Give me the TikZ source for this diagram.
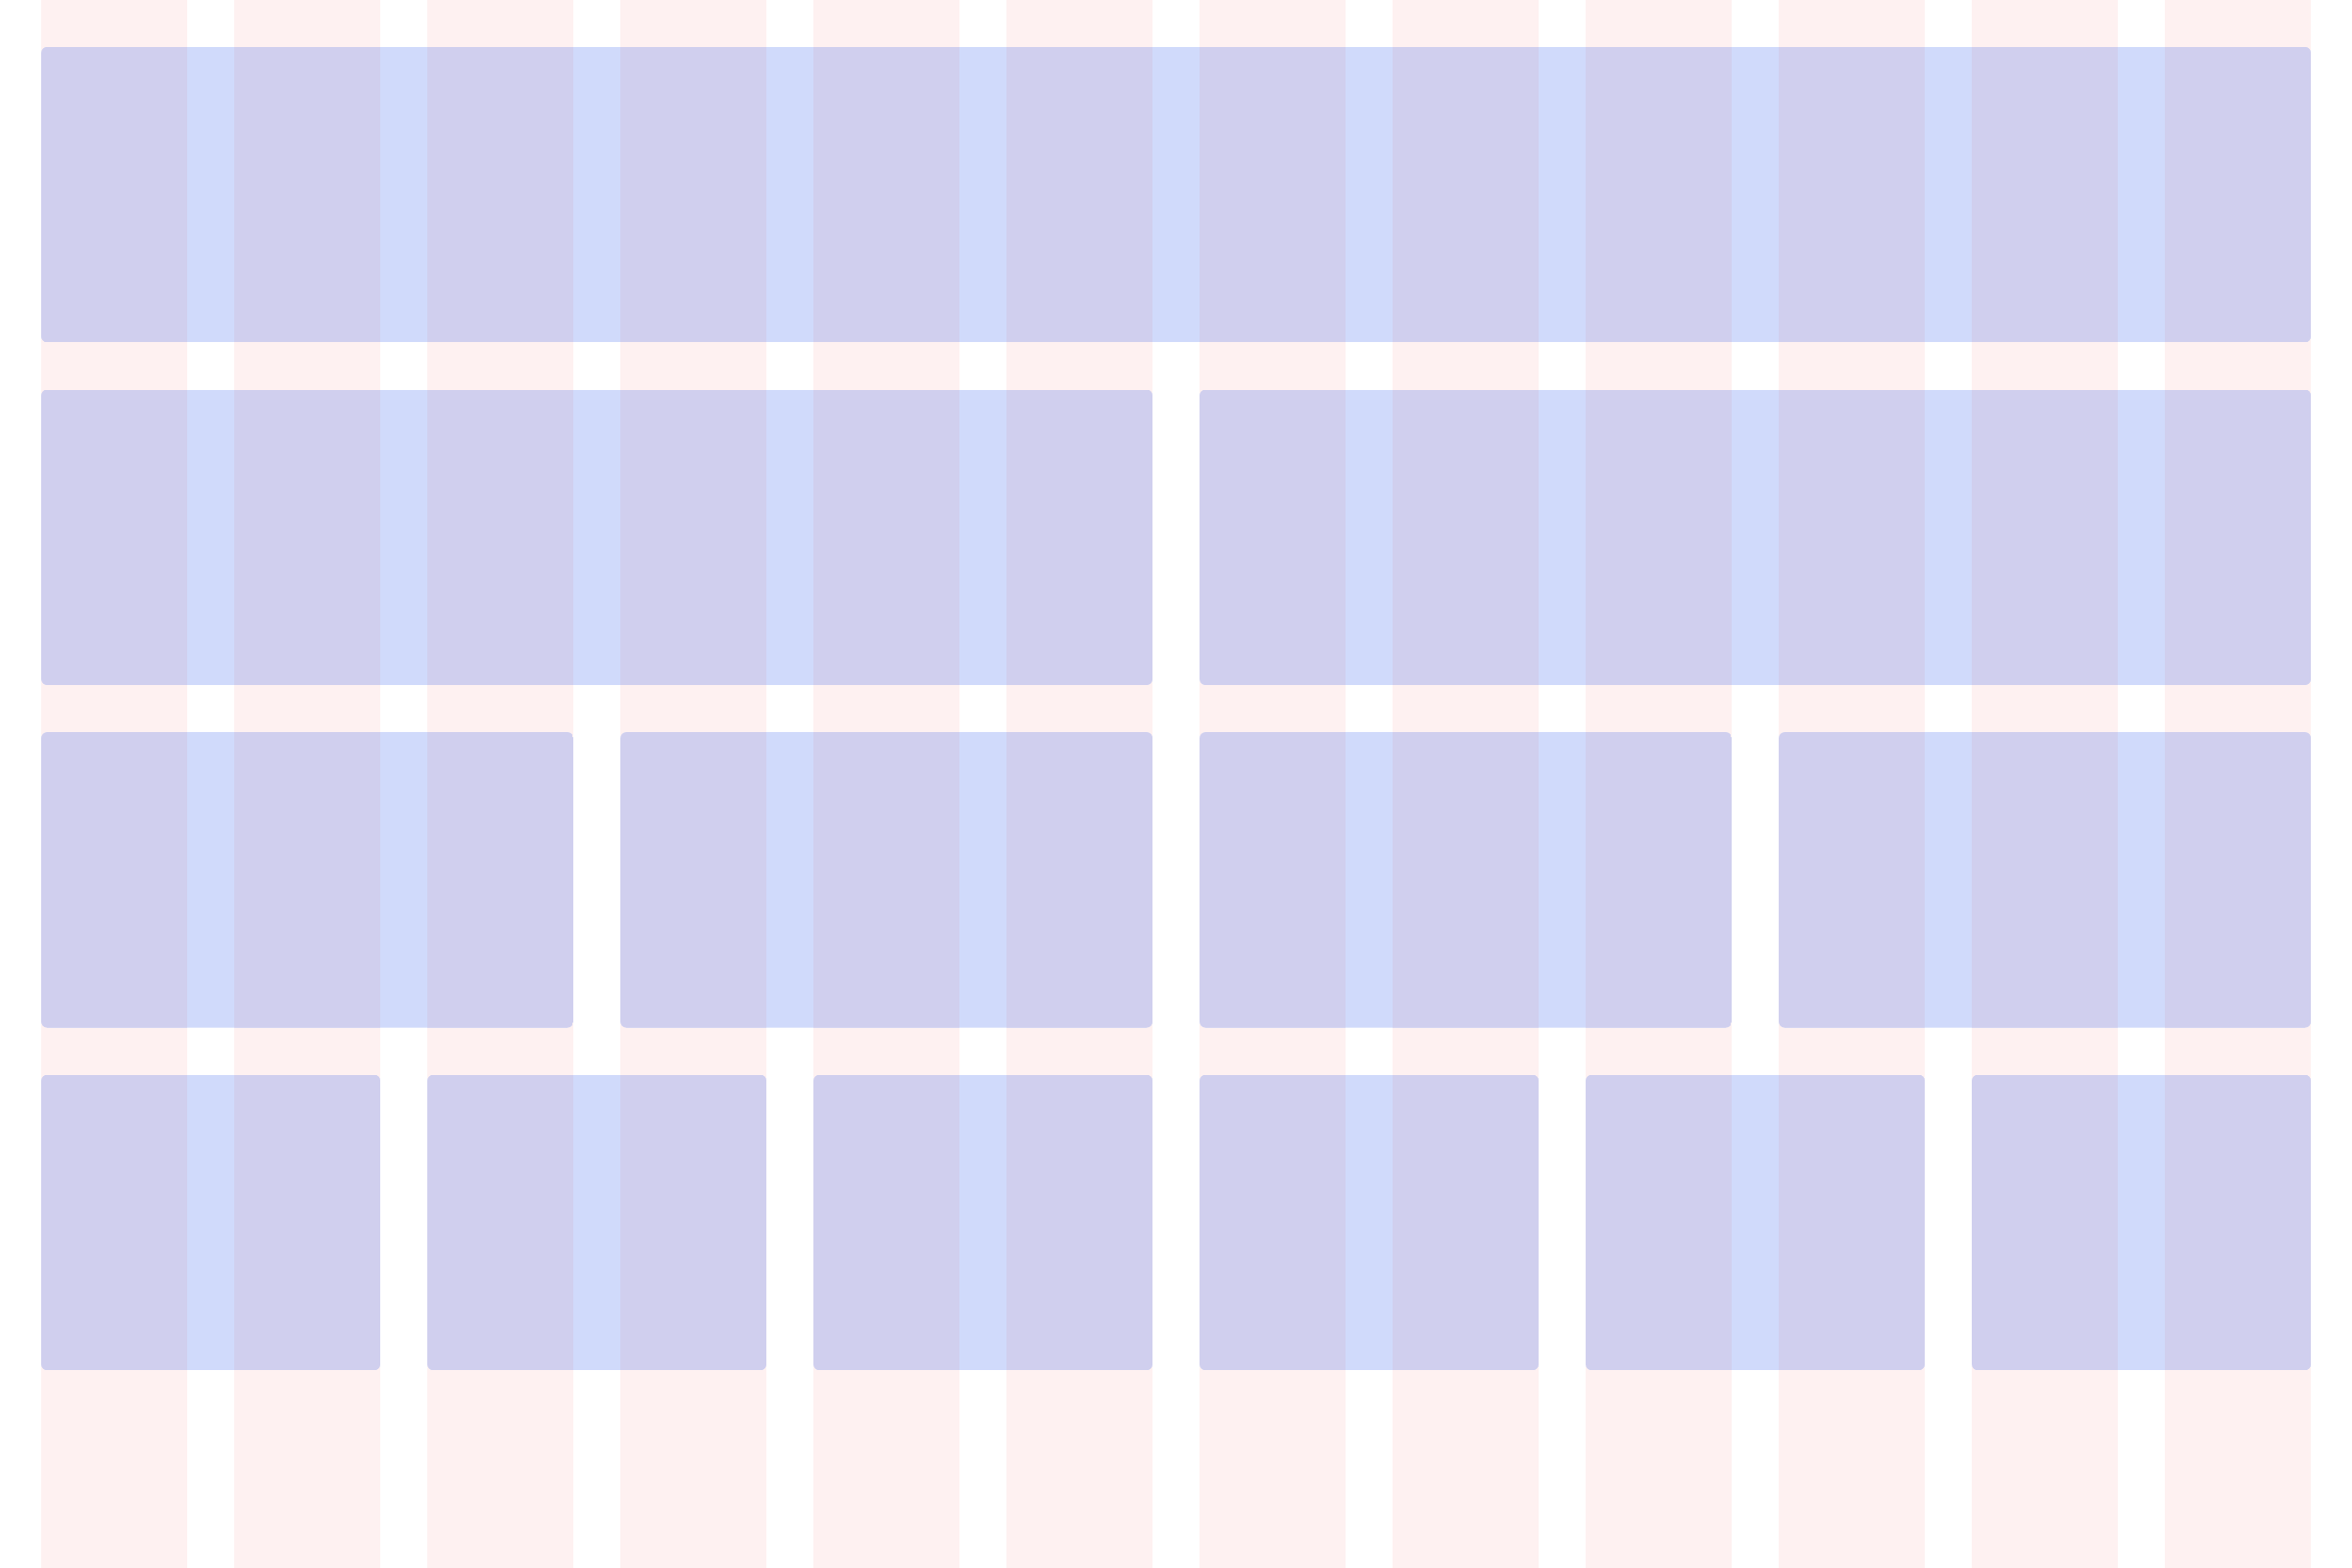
\documentclass[tikz,border=0pt]{standalone}
\definecolor{pinkcol}{RGB}{254,241,241}
\definecolor{boxblue}{RGB}{208,218,251}
\definecolor{boxpurple}{RGB}{208,207,238}
\newcommand\gridbox[3]{%
 \pgfmathsetmacro\xa{42.2+(#2-1)*197}%
 \pgfmathsetmacro\xb{42.2+(#3-1)*197+148.7}%
 \pgfmathsetmacro\ya{48+(#1-1)*349.6}%
 \pgfmathsetmacro\yb{\ya+301.3}%
 \begin{scope}
 \clip[rounded corners=6pt] (\xa,\ya) rectangle (\xb,\yb);
 \fill[boxblue] (\xa,\ya) rectangle (\xb,\yb);
 \foreach \c in {#2,...,#3} {\pgfmathsetmacro\cx{42.2+(\c-1)*197}\fill[boxpurple] (\cx,\ya) rectangle ({\cx+148.7},\yb);}
 \end{scope}}
\begin{document}
\begin{tikzpicture}[x=1pt,y=-1pt]
\fill[white] (0,0) rectangle (2400,1600);
\useasboundingbox (0,0) rectangle (2400,1600);
\foreach \i in {0,...,11} \fill[pinkcol] ({42.2+\i*197},0) rectangle ({42.2+\i*197+148.7},1600);
\gridbox{1}{1}{12}
\gridbox{2}{1}{6}
\gridbox{2}{7}{12}
\gridbox{3}{1}{3}
\gridbox{3}{4}{6}
\gridbox{3}{7}{9}
\gridbox{3}{10}{12}
\gridbox{4}{1}{2}
\gridbox{4}{3}{4}
\gridbox{4}{5}{6}
\gridbox{4}{7}{8}
\gridbox{4}{9}{10}
\gridbox{4}{11}{12}
\end{tikzpicture}
\end{document}
